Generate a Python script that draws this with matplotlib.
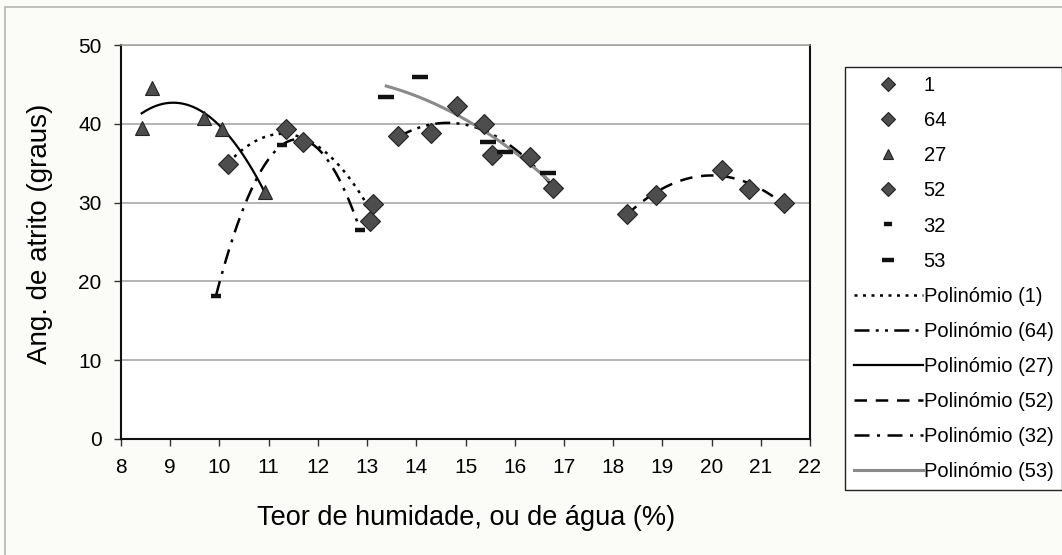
import numpy as np
import matplotlib
matplotlib.use("Agg")
import matplotlib.pyplot as plt
from matplotlib.patches import Rectangle

plt.rcParams["font.family"] = ["Liberation Sans", "DejaVu Sans"]

# ---------------------------------------------------------------------------
# Data (moisture %, friction angle in degrees)
# ---------------------------------------------------------------------------
s1_x = [10.18, 11.35, 11.70, 13.05, 13.13]
s1_y = [34.9, 39.4, 37.7, 27.7, 29.8]

s64_x = [13.63, 14.30, 14.83, 15.38, 15.54, 16.31, 16.78]
s64_y = [38.4, 38.8, 42.2, 40.0, 36.1, 35.8, 31.9]

s27_x = [8.42, 8.64, 9.69, 10.06, 10.93]
s27_y = [39.5, 44.5, 40.7, 39.3, 31.4]

s52_x = [18.28, 18.87, 20.22, 20.76, 21.48]
s52_y = [28.6, 31.0, 34.1, 31.7, 29.9]

s32_x = [9.93, 11.27, 12.86]
s32_y = [18.2, 37.3, 26.5]

s53_x = [13.39, 14.08, 15.46, 15.80, 16.68]
s53_y = [43.4, 45.9, 37.7, 36.4, 33.7]

names = ["1", "64", "27", "52", "32", "53"]

# ---------------------------------------------------------------------------
# Styles: (marker kwargs, trendline kwargs) per series
# ---------------------------------------------------------------------------
MK_FACE = "#4d4d4d"
DIAMOND = dict(marker="D", ms=10, mfc=MK_FACE, mec="#222222", mew=0.8)
series = [
    (s1_x, s1_y, DIAMOND, dict(ls=(0, (1.2, 2.2)), color="black", lw=1.8)),
    (s64_x, s64_y, DIAMOND, dict(ls=(0, (6, 2.5, 1.2, 2.5, 1.2, 2.5)), color="black", lw=1.8)),
    (s27_x, s27_y, dict(marker="^", ms=10.5, mfc=MK_FACE, mec="#222222", mew=0.8),
     dict(ls="-", color="black", lw=1.6)),
    (s52_x, s52_y, DIAMOND, dict(ls=(0, (5, 3.5)), color="black", lw=1.8)),
    (s32_x, s32_y, dict(marker="_", ms=7.5, mec="#111111", mew=3.2),
     dict(ls=(0, (6, 3, 1.2, 3)), color="black", lw=1.8)),
    (s53_x, s53_y, dict(marker="_", ms=12, mec="#111111", mew=3.2),
     dict(ls="-", color="#8a8a8a", lw=2.2)),
]

fig = plt.figure(figsize=(10.62, 5.55), dpi=100, facecolor="#fbfbf8")
fig.patches.append(Rectangle((5 / 1062, -0.1), 1.2, 1.1 - 7 / 555,
                             transform=fig.transFigure, fill=False,
                             edgecolor="#b5b5b5", lw=1.2))

ax = fig.add_axes([121 / 1062, 1 - 439 / 555, 689 / 1062, 394 / 555])
ax.set_facecolor("white")

marker_handles = []
line_handles = []
for (xs, ys, mk, ln), name in zip(series, names):
    h = ax.plot(xs, ys, ls="none", zorder=4, label=name, **mk)[0]
    marker_handles.append(h)
    # Excel-style 2nd order polynomial trendline over the series' x range
    coef = np.polyfit(xs, ys, 2)
    xf = np.linspace(min(xs), max(xs), 200)
    lh = ax.plot(xf, np.polyval(coef, xf), zorder=3,
                 label=f"Polinómio ({name})", **ln)[0]
    line_handles.append(lh)

ax.set_xlim(8, 22)
ax.set_ylim(0, 50)
ax.set_xticks(range(8, 23))
ax.set_yticks(range(0, 51, 10))
ax.yaxis.grid(True, color="#a0a0a0", lw=1.1)
ax.set_axisbelow(True)
ax.tick_params(axis="both", labelsize=15, direction="out", length=5,
               width=1, color="#333333")
ax.tick_params(axis="x", pad=9)
ax.tick_params(axis="y", pad=9)
for side in ("left", "bottom", "right"):
    ax.spines[side].set_color("#111111")
    ax.spines[side].set_linewidth(1.5)
ax.spines["top"].set_color("#a0a0a0")
ax.spines["top"].set_linewidth(1.1)

fig.text(466 / 1062, 1 - 518 / 555, "Teor de humidade, ou de água (%)",
         fontsize=19.5, ha="center", va="center")
fig.text(40 / 1062, 1 - 234 / 555, "Ang. de atrito (graus)",
         fontsize=20, ha="center", va="center", rotation=90)

leg = fig.legend(marker_handles + line_handles,
                 [h.get_label() for h in marker_handles + line_handles],
                 loc="upper left", bbox_to_anchor=(845 / 1062, 1 - 67 / 555),
                 bbox_transform=fig.transFigure, borderaxespad=0,
                 fontsize=14.5, frameon=True, fancybox=False, edgecolor="#222222",
                 facecolor="white", framealpha=1, handlelength=3.4,
                 handletextpad=0.05, labelspacing=0.8, borderpad=0.45,
                 markerscale=0.75)
leg.get_frame().set_linewidth(1.0)

fig.savefig("out.png", dpi=100, facecolor=fig.get_facecolor())
